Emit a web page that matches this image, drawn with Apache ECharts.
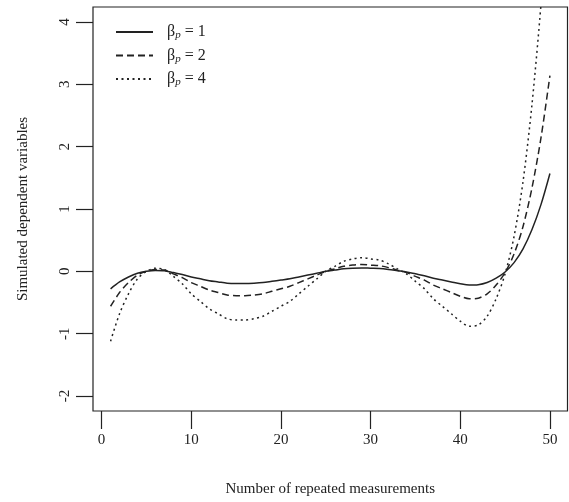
<!DOCTYPE html>
<html lang="en">
<head>
    <meta charset="UTF-8">
    <title>Simulated dependent variables</title>
    <script src="https://cdn.jsdelivr.net/npm/echarts@6/dist/echarts.min.js"></script>
    <style>
        html, body { margin: 0; padding: 0; background: #fff; }
        #main { width: 569px; height: 502px; }
    </style>
</head>
<body>
<div id="main"></div>

<script type="text/javascript">
    // repeated measurements 1..50
    var measurements = [1, 2, 3, 4, 5, 6, 7, 8, 9, 10,
        11, 12, 13, 14, 15, 16, 17, 18, 19, 20,
        21, 22, 23, 24, 25, 26, 27, 28, 29, 30,
        31, 32, 33, 34, 35, 36, 37, 38, 39, 40,
        41, 42, 43, 44, 45, 46, 47, 48, 49, 50];

    // beta_p = 1 (solid)
    var beta1 = [-0.28, -0.17, -0.09, -0.03, 0.00, 0.015, 0.01, -0.02, -0.05, -0.09,
        -0.12, -0.15, -0.17, -0.19, -0.195, -0.195, -0.19, -0.18, -0.16, -0.14,
        -0.12, -0.09, -0.06, -0.03, 0.00, 0.02, 0.04, 0.05, 0.055, 0.05,
        0.045, 0.03, 0.01, -0.01, -0.04, -0.07, -0.11, -0.14, -0.17, -0.20,
        -0.22, -0.215, -0.18, -0.11, -0.01, 0.14, 0.36, 0.67, 1.07, 1.57];

    // beta_p = 2 (dashed)
    var beta2 = [-0.56, -0.34, -0.18, -0.06, 0.00, 0.03, 0.02, -0.04, -0.10, -0.18,
        -0.24, -0.30, -0.34, -0.38, -0.39, -0.39, -0.38, -0.36, -0.32, -0.28,
        -0.24, -0.18, -0.12, -0.06, 0.00, 0.04, 0.08, 0.10, 0.11, 0.10,
        0.09, 0.06, 0.02, -0.02, -0.08, -0.14, -0.22, -0.28, -0.34, -0.40,
        -0.44, -0.43, -0.36, -0.22, -0.02, 0.28, 0.72, 1.34, 2.14, 3.14];

    // beta_p = 4 (dotted)
    var beta4 = [-1.12, -0.68, -0.36, -0.12, 0.00, 0.05, 0.03, -0.08, -0.20, -0.36,
        -0.48, -0.60, -0.68, -0.76, -0.78, -0.78, -0.76, -0.72, -0.64, -0.56,
        -0.48, -0.36, -0.24, -0.12, 0.00, 0.08, 0.16, 0.20, 0.22, 0.20,
        0.18, 0.12, 0.04, -0.04, -0.16, -0.28, -0.44, -0.56, -0.68, -0.80,
        -0.88, -0.86, -0.72, -0.44, -0.04, 0.56, 1.44, 2.68, 4.28, 6.28];

    var legendNames = ['1', '2', '4'];
    var xTicks = [0, 10, 20, 30, 40, 50];
    var yTicks = [-2, -1, 0, 1, 2, 3, 4];

    var serif = 'Liberation Serif';
    var ink = '#222';

    function pairs(ys) {
        return measurements.map(function (x, i) { return [x, ys[i]]; });
    }

    var chartDom = document.getElementById('main');
    var myChart = echarts.init(chartDom);

    var dashTypes = ['solid', [7, 4], [2, 3.5]];
    var values = [beta1, beta2, beta4];

    var series = values.map(function (ys, i) {
        return {
            name: legendNames[i],
            type: 'line',
            data: pairs(ys),
            symbol: 'none',
            smooth: 0.3,
            clip: true,
            lineStyle: { color: ink, width: 1.5, type: dashTypes[i] },
            itemStyle: { color: ink },
            emphasis: { disabled: true }
        };
    });

    var option = {
        animation: false,
        grid: {
            left: 93, right: 1.5, top: 7, bottom: 88,
            show: true, borderColor: ink, borderWidth: 1.2, backgroundColor: '#fff'
        },
        legend: {
            orient: 'vertical',
            left: 110, top: 19,
            itemWidth: 37, itemHeight: 14, itemGap: 6.5,
            data: legendNames,
            itemStyle: { opacity: 0 },
            formatter: function (name) {
                return '{b|β}{s|p}{t| = ' + name + '}';
            },
            textStyle: {
                color: ink,
                fontFamily: serif,
                fontSize: 16,
                rich: {
                    b: { fontFamily: serif, fontSize: 16, color: ink, padding: [0, 0, 0, 9] },
                    s: { fontFamily: serif, fontSize: 11, fontStyle: 'italic', color: ink, padding: [7, 0, 0, 0] },
                    t: { fontFamily: serif, fontSize: 16, color: ink }
                }
            }
        },
        xAxis: {
            type: 'value',
            min: -0.96, max: 51.96,
            name: 'Number of repeated measurements',
            nameLocation: 'middle',
            nameGap: 71,
            nameTextStyle: { fontFamily: serif, fontSize: 15, color: ink },
            axisLine: { show: false, onZero: false },
            splitLine: { show: false },
            axisTick: { show: true, length: 18, customValues: xTicks, lineStyle: { color: ink, width: 1.2 } },
            axisLabel: { customValues: xTicks, margin: 22, fontFamily: serif, fontSize: 15, color: ink }
        },
        yAxis: {
            type: 'value',
            min: -2.24, max: 4.24,
            name: 'Simulated dependent variables',
            nameLocation: 'middle',
            nameGap: 62,
            nameTextStyle: { fontFamily: serif, fontSize: 15, color: ink },
            axisLine: { show: false, onZero: false },
            splitLine: { show: false },
            axisTick: { show: true, length: 17, customValues: yTicks, lineStyle: { color: ink, width: 1.2 } },
            axisLabel: { customValues: yTicks, rotate: 90, margin: 20, fontFamily: serif, fontSize: 15, color: ink }
        },
        series: series
    };

    myChart.setOption(option);
</script>
</body>
</html>
